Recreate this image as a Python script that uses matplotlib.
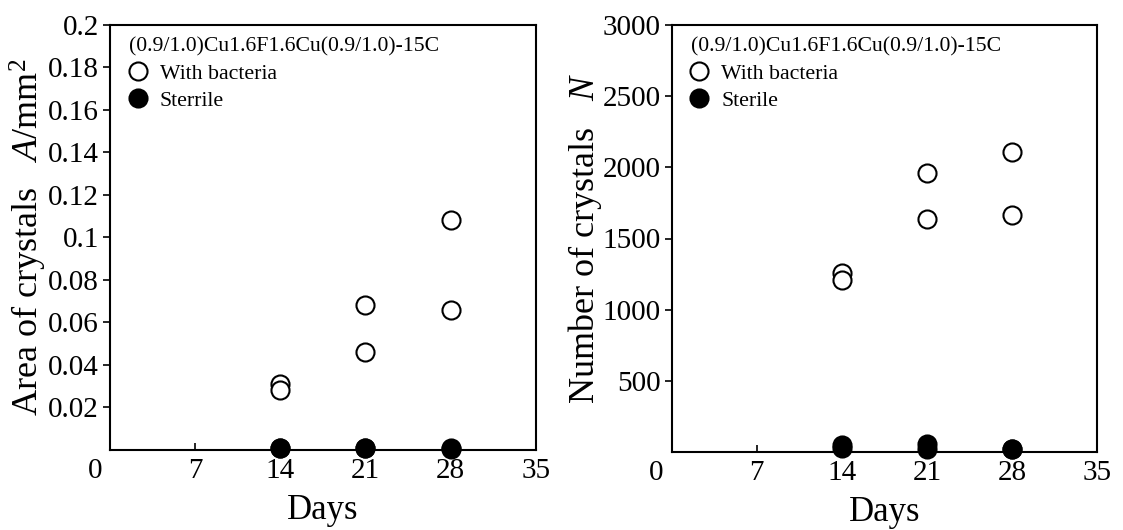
import matplotlib.pyplot as plt

plt.rcParams['font.family'] = ['Liberation Serif', 'DejaVu Serif']
plt.rcParams['mathtext.fontset'] = 'custom'
plt.rcParams['mathtext.rm'] = 'Liberation Serif'
plt.rcParams['mathtext.it'] = 'Liberation Serif:italic'

# data
days = [14, 14, 21, 21, 28, 28]
area_bacteria = [0.031, 0.028, 0.068, 0.046, 0.108, 0.066]
area_sterile = [0.001, 0.0008, 0.001, 0.0008, 0.0008, 0.0006]
number_bacteria = [1256, 1209, 1962, 1635, 2109, 1664]
number_sterile = [50, 30, 55, 20, 25, 20]

x_ticks = [7, 14, 21, 28, 35]
area_ticks = [0.02, 0.04, 0.06, 0.08, 0.1, 0.12, 0.14, 0.16, 0.18, 0.2]
area_ticklabels = ['0.02', '0.04', '0.06', '0.08', '0.1', '0.12', '0.14', '0.16', '0.18', '0.2']
number_ticks = [500, 1000, 1500, 2000, 2500, 3000]
sample_name = '(0.9/1.0)Cu1.6F1.6Cu(0.9/1.0)-15C'

fig = plt.figure(figsize=(11.23, 5.30), dpi=100)
ax1 = fig.add_axes([0.098, 0.151, 0.379, 0.802])
ax2 = fig.add_axes([0.598, 0.147, 0.379, 0.806])


def style(ax, yticks, yticklabels, ymax, ylabel):
    ax.set_xlim(0, 35)
    ax.set_ylim(0, ymax)
    ax.set_xticks(x_ticks)
    ax.set_xticklabels([str(t) for t in x_ticks], fontsize=21)
    ax.set_yticks(yticks)
    ax.set_yticklabels(yticklabels, fontsize=21)
    ax.tick_params(axis='x', direction='in', length=5, width=1.2, pad=6)
    ax.tick_params(axis='y', direction='out', length=5, width=1.2, pad=3)
    for s in ax.spines.values():
        s.set_linewidth(1.5)
    ax.set_xlabel('Days', fontsize=25, labelpad=7)
    ax.set_ylabel(ylabel, fontsize=26, labelpad=-1)
    # shared "0" at the corner
    ax.annotate('0', xy=(0, 0), xycoords='data', xytext=(-15, -8),
                textcoords='offset pixels', ha='center', va='top', fontsize=21)
    ax.legend(title=sample_name, loc='upper left', bbox_to_anchor=(0.045, 0.97),
              frameon=False, fontsize=15.7, title_fontsize=15.7, alignment='left',
              handletextpad=0.6, labelspacing=0.3, borderaxespad=0, borderpad=0,
              handlelength=0.8, markerscale=1.0)


ax1.plot(days, area_bacteria, 'o', ms=13, mfc='white', mec='black', mew=1.5,
         clip_on=False, label='With bacteria', zorder=3)
ax1.plot(days, area_sterile, 'o', ms=13, mfc='black', mec='black', mew=1.5,
         clip_on=False, label='Sterrile', zorder=3)
style(ax1, area_ticks, area_ticklabels, 0.2, r'Area of crystals   $A$/mm$^2$')

ax2.plot(days, number_bacteria, 'o', ms=13, mfc='white', mec='black', mew=1.5,
         clip_on=False, label='With bacteria', zorder=3)
ax2.plot(days, number_sterile, 'o', ms=13, mfc='black', mec='black', mew=1.5,
         clip_on=False, label='Sterile', zorder=3)
style(ax2, number_ticks, [str(t) for t in number_ticks], 3000,
      r'Number of crystals   $N$')

fig.savefig('out.png', dpi=100)
